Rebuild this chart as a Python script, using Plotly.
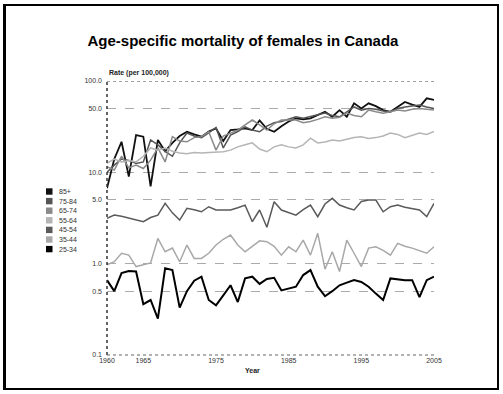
import plotly.graph_objects as go

# Age-specific mortality rates (per 100,000), females, Canada
years = list(range(1960, 2006))

age_groups = ["85+", "75-84", "65-74", "55-64", "45-54", "35-44", "25-34"]
colors = ["#111111", "#555555", "#8a8a8a", "#b5b5b5", "#5a5a5a", "#a8a8a8", "#000000"]
widths = [1.8, 1.5, 1.5, 1.5, 1.5, 1.5, 2.0]

rate_85_plus = [6.7, 14, 21.6, 9, 25.6, 24.6, 7.0, 22.6, 17, 21, 25, 27.8, 26, 24.6, 28, 30.3,
                22, 29, 29.5, 30.3, 29, 37, 30, 27.8, 32, 36, 39, 38, 39, 42, 46, 40.6, 48,
                40.6, 57, 50, 57, 53, 48, 46, 52, 59, 55, 52, 64.6, 62]
rate_75_84 = [10, 12, 14, 13.5, 12.5, 13, 22.6, 20, 17, 15, 21, 27, 25, 24, 27, 31, 18.5, 25.6,
              28, 31.5, 29, 27.8, 32, 35, 36, 38, 40.6, 39, 40.6, 42, 44.5, 42, 40.6, 46, 52,
              48, 50, 49, 47, 46, 50, 52, 53, 54.6, 52, 50]
rate_65_74 = [11.5, 10.6, 15, 11.2, 12, 11, 13.6, 18.5, 13, 24.6, 22, 21.6, 24, 24.6, 27.8,
              17.5, 25, 27, 29, 33, 37.4, 33, 29, 34, 37.4, 37.4, 37.4, 35, 36, 38, 40.6, 39,
              40, 44.5, 42, 40.6, 48, 46, 44.5, 46, 48, 47, 49, 50, 49, 48]
rate_55_64 = [12.6, 14, 13, 13.5, 13, 15, 18.5, 17.5, 18.5, 17, 16.3, 16, 16.5, 16.3, 16.5,
              16.8, 16.8, 17.5, 19, 20, 21, 18, 16.8, 19, 20, 19, 18.5, 20, 23.7, 21, 21.5,
              22.6, 22, 23, 24, 24.5, 23.5, 24, 25, 27, 26, 24, 25.5, 27, 26, 28]
rate_45_54 = [3.14, 3.40, 3.30, 3.14, 3.00, 2.88, 3.20, 3.40, 4.57, 3.60, 3.00, 4.03, 3.90,
              3.70, 4.20, 3.87, 3.87, 3.87, 4.10, 4.38, 2.88, 3.87, 2.50, 4.77, 3.87, 3.60,
              3.40, 3.90, 4.38, 3.27, 4.50, 5.19, 4.38, 4.10, 3.87, 4.80, 4.98, 4.98, 3.70,
              4.20, 4.38, 4.15, 4.03, 3.87, 3.27, 4.57]
rate_35_44 = [0.97, 1.05, 1.30, 1.24, 0.93, 0.98, 1.02, 1.89, 1.35, 1.48, 1.05, 1.60, 1.14,
              1.14, 1.30, 1.60, 1.85, 2.06, 1.60, 1.35, 1.55, 1.78, 1.74, 1.55, 1.24, 1.53,
              1.35, 1.81, 1.24, 2.15, 0.87, 1.35, 0.82, 1.81, 1.30, 0.93, 1.48, 1.53, 1.40,
              1.24, 1.67, 1.55, 1.48, 1.40, 1.30, 1.53]
rate_25_34 = [0.66, 0.50, 0.79, 0.83, 0.82, 0.36, 0.40, 0.25, 0.89, 0.85, 0.33, 0.50, 0.65,
              0.72, 0.40, 0.35, 0.45, 0.58, 0.38, 0.69, 0.72, 0.60, 0.68, 0.70, 0.51, 0.53,
              0.56, 0.75, 0.85, 0.56, 0.44, 0.50, 0.58, 0.62, 0.66, 0.63, 0.56, 0.47, 0.40,
              0.69, 0.67, 0.66, 0.66, 0.43, 0.66, 0.72]

series = [rate_85_plus, rate_75_84, rate_65_74, rate_55_64, rate_45_54, rate_35_44, rate_25_34]

y_tickvals = [100, 50, 10, 5, 1, 0.5, 0.1]
y_ticktext = ["100.0", "50.0", "10.0", "5.0", "1.0", "0.5", "0.1"]
x_tickvals = [1960, 1965, 1975, 1985, 1995, 2005]
x_ticktext = ["1960", "1965", "1975", "1985", "1995", "2005"]

W, H = 503, 394
ML, MR, MT, MB = 107, 69, 81, 39
PW, PH = W - ML - MR, H - MT - MB


def px_x(px):
    return (px - ML) / PW


def px_y(py):
    return (H - MB - py) / PH


fig = go.Figure()
for name, vals, col, w in zip(age_groups, series, colors, widths):
    fig.add_trace(go.Scatter(x=years, y=vals, mode="lines", name=name,
                             line=dict(color=col, width=w), showlegend=False))

shapes = []
annotations = []

# outer frame
shapes.append(dict(type="rect", xref="paper", yref="paper",
                   x0=px_x(4), x1=px_x(498), y0=px_y(389), y1=px_y(5),
                   line=dict(color="black", width=2)))
shapes.append(dict(type="line", xref="paper", yref="paper",
                   x0=px_x(4.5), x1=px_x(4.5), y0=px_y(389), y1=px_y(5),
                   line=dict(color="black", width=3)))

# dotted axis lines
shapes.append(dict(type="line", xref="paper", yref="paper", x0=0, x1=0, y0=0, y1=1,
                   line=dict(color="#333", width=1.5, dash="dot")))
shapes.append(dict(type="line", xref="paper", yref="paper", x0=0, x1=1, y0=0, y1=0,
                   line=dict(color="#666", width=1.2, dash="dot")))
# darker reference line at 100
shapes.append(dict(type="line", xref="paper", yref="y", x0=0, x1=1, y0=100, y1=100,
                   line=dict(color="#444", width=1.2, dash="dot")))

# legend drawn as small boxes with labels
leg_y0, leg_step = 191.5, 9.6
for i, (name, col) in enumerate(zip(age_groups, colors)):
    cy = leg_y0 + i * leg_step
    shapes.append(dict(type="rect", xref="paper", yref="paper",
                       x0=px_x(46), x1=px_x(52.5), y0=px_y(cy + 3.2), y1=px_y(cy - 3.2),
                       fillcolor=col, line=dict(width=0)))
    annotations.append(dict(x=px_x(57), y=px_y(cy), xref="paper", yref="paper",
                            text=name, showarrow=False, xanchor="left", yanchor="middle",
                            font=dict(size=7, color="#333", family="Liberation Sans")))

annotations.append(dict(x=px_x(107), y=px_y(73), xref="paper", yref="paper",
                        text="<b>Rate (per 100,000)</b>", showarrow=False,
                        xanchor="left", yanchor="middle",
                        font=dict(size=7, color="#222", family="Liberation Sans")))
annotations.append(dict(x=px_x(252), y=px_y(370), xref="paper", yref="paper",
                        text="<b>Year</b>", showarrow=False,
                        xanchor="center", yanchor="middle",
                        font=dict(size=7, color="#222", family="Liberation Sans")))

fig.update_layout(
    width=W, height=H,
    margin=dict(l=ML, r=MR, t=MT, b=MB),
    paper_bgcolor="white", plot_bgcolor="white",
    title=dict(text="<b>Age-specific mortality of females in Canada</b>",
               xref="container", x=243 / W, xanchor="center",
               yref="container", y=1 - 41 / H, yanchor="middle",
               font=dict(size=15, color="black", family="Liberation Sans")),
    shapes=shapes,
    annotations=annotations,
    showlegend=False,
    xaxis=dict(range=[1960, 2005], tickvals=x_tickvals, ticktext=x_ticktext,
               showgrid=False, zeroline=False, showline=False, ticks="",
               tickfont=dict(size=7, color="#333", family="Liberation Sans")),
    yaxis=dict(type="log", range=[-1, 2], tickvals=y_tickvals, ticktext=y_ticktext,
               showgrid=True, gridcolor="#aaa", griddash="dash", gridwidth=1,
               zeroline=False, showline=False, ticks="", ticklabelstandoff=4,
               tickfont=dict(size=7, color="#333", family="Liberation Sans")),
)

fig.write_html("out.html")
